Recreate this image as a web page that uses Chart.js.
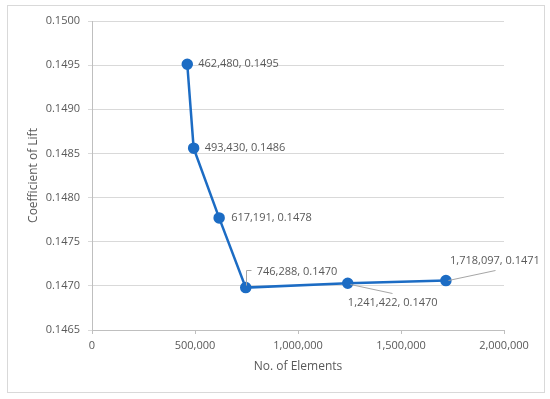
<!DOCTYPE html>
<html>
<head>
<meta charset="utf-8">
<script src="https://cdn.jsdelivr.net/npm/chart.js@4.4.0/dist/chart.umd.min.js"></script>
<style>
  html, body { margin: 0; padding: 0; background: #fff; }
</style>
</head>
<body>
<canvas id="liftChart" width="550" height="399"></canvas>
<script>
// mesh size vs. lift coefficient
const elements = [462480, 493430, 617191, 746288, 1241422, 1718097];
const liftCoeff = [0.14951, 0.14856, 0.14777, 0.14698, 0.14703, 0.14706];
const yTicks = [0.1465, 0.1470, 0.1475, 0.1480, 0.1485, 0.1490, 0.1495, 0.1500];
const xTicks = [0, 500000, 1000000, 1500000, 2000000];

const textColor = '#595959';
const lineBlue = '#1c6cc4';
const fontName = "'Open Sans', sans-serif";

// where each data label sits relative to its point (dx, dy, align) and its leader line
const labelPlacement = [
  { dx: 11, dy: 0, align: 'left' },
  { dx: 11, dy: 0, align: 'left' },
  { dx: 12, dy: 0, align: 'left' },
  { dx: 11, dy: -16, align: 'left', leader: [[0, -3], [0, -18], [5, -18]] },
  { dx: 45, dy: 20, align: 'center', leader: [[2, 1], [44, 10]] },
  { dx: 49, dy: -20, align: 'center', leader: [[2, -1], [49, -11]] }
];

function fmtX(v) {
  return Number(v).toLocaleString('en-US');
}

const points = elements.map((x, i) => ({ x: x, y: liftCoeff[i] }));

const framePlugin = {
  id: 'frame',
  beforeDraw(chart) {
    const ctx = chart.ctx;
    ctx.save();
    ctx.fillStyle = '#fff';
    ctx.fillRect(0, 0, chart.width, chart.height);
    ctx.strokeStyle = '#d9d9d9';
    ctx.lineWidth = 1;
    ctx.strokeRect(7.5, 5.5, 537, 387);
    ctx.restore();
  }
};

const pointLabels = {
  id: 'pointLabels',
  afterDatasetsDraw(chart) {
    const ctx = chart.ctx;
    const xs = chart.scales.x, ys = chart.scales.y;
    ctx.save();
    ctx.font = '11px ' + fontName;
    ctx.fillStyle = textColor;
    ctx.textBaseline = 'middle';
    elements.forEach((x, i) => {
      const px = xs.getPixelForValue(x);
      const py = ys.getPixelForValue(liftCoeff[i]);
      const p = labelPlacement[i];
      if (p.leader) {
        ctx.strokeStyle = '#a6a6a6';
        ctx.lineWidth = 1;
        ctx.beginPath();
        p.leader.forEach((pt, k) => {
          const lx = Math.round(px + pt[0]) + 0.5, ly = Math.round(py + pt[1]) + 0.5;
          if (k === 0) ctx.moveTo(lx, ly); else ctx.lineTo(lx, ly);
        });
        ctx.stroke();
      }
      ctx.textAlign = p.align;
      ctx.fillText(fmtX(x) + ', ' + liftCoeff[i].toFixed(4), px + p.dx, py + p.dy);
    });
    ctx.restore();
  }
};

const ctx = document.getElementById('liftChart').getContext('2d');
const liftChart = new Chart(ctx, {
  type: 'scatter',
  data: {
    datasets: [{
      label: 'Coefficient of Lift',
      data: points,
      showLine: true,
      borderColor: lineBlue,
      backgroundColor: lineBlue,
      borderWidth: 2.5,
      pointRadius: 4.5,
      pointHoverRadius: 4.5,
      pointBackgroundColor: lineBlue,
      pointBorderColor: lineBlue,
      tension: 0
    }]
  },
  options: {
    responsive: false,
    animation: false,
    layout: { padding: { left: 10, top: 21, right: 46, bottom: 10 } },
    plugins: {
      legend: { display: false },
      tooltip: { enabled: false }
    },
    scales: {
      x: {
        type: 'linear',
        min: xTicks[0],
        max: xTicks[xTicks.length - 1],
        afterBuildTicks(scale) { scale.ticks = xTicks.map(v => ({ value: v })); },
        afterFit(scale) { scale.height = 59; },
        ticks: {
          color: textColor,
          font: { family: fontName, size: 11 },
          padding: 5,
          maxRotation: 0,
          callback: v => fmtX(v)
        },
        grid: { drawOnChartArea: false, drawTicks: true, tickLength: 4, color: '#bfbfbf' },
        border: { display: true, color: '#bfbfbf' },
        title: {
          display: true,
          text: 'No. of Elements',
          color: textColor,
          font: { family: fontName, size: 12 },
          padding: { top: 0, bottom: 15 }
        }
      },
      y: {
        type: 'linear',
        min: yTicks[0],
        max: yTicks[yTicks.length - 1],
        afterBuildTicks(scale) { scale.ticks = yTicks.map(v => ({ value: v })); },
        afterFit(scale) { scale.width = 82; },
        ticks: {
          color: textColor,
          font: { family: fontName, size: 11 },
          padding: 8,
          callback: v => Number(v).toFixed(4)
        },
        grid: { color: '#d9d9d9', drawTicks: true, tickLength: 4 },
        border: { display: true, color: '#bfbfbf' },
        title: {
          display: true,
          text: 'Coefficient of Lift',
          color: textColor,
          font: { family: fontName, size: 12 },
          padding: { top: 16, bottom: 0 }
        }
      }
    }
  },
  plugins: [framePlugin, pointLabels]
});
</script>
</body>
</html>
